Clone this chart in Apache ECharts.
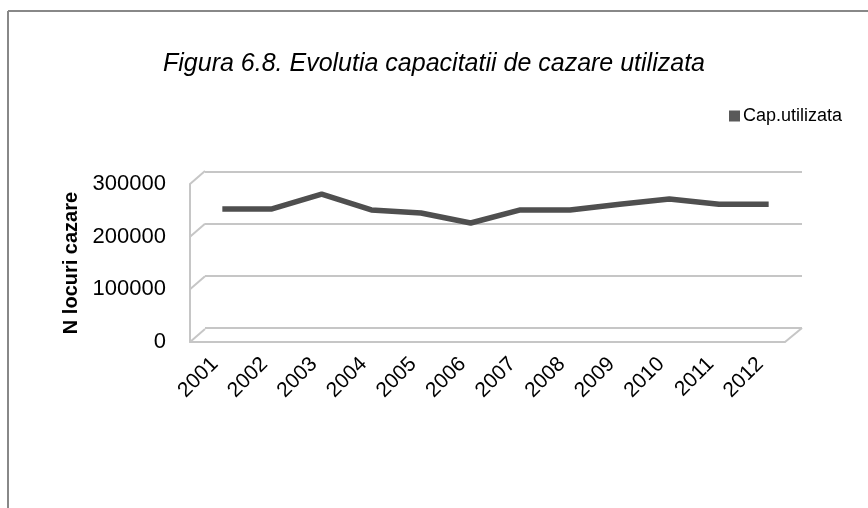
<!DOCTYPE html>
<html>
<head>
<meta charset="utf-8">
<title>Figura 6.8</title>
<script src="https://cdn.jsdelivr.net/npm/echarts@6/dist/echarts.min.js"></script>
<style>
  html, body { margin: 0; padding: 0; background: #fff; }
  #main { width: 868px; height: 508px; }
</style>
</head>
<body>
<div id="main"></div>
<script>
// date
const years = ['2001', '2002', '2003', '2004', '2005', '2006', '2007', '2008', '2009', '2010', '2011', '2012'];
const capUtilizata = [241000, 241000, 269000, 239000, 233000, 214000, 239000, 239000, 250000, 260000, 250000, 250000];
const yTicks = [0, 100000, 200000, 300000];

const chartDom = document.getElementById('main');
const myChart = echarts.init(chartDom);
const gridColor = '#c6c6c6';
const font = 'Liberation Sans, Arial, sans-serif';

// liniile oblice (efect 3D) intre axa din fata si planul din spate
function renderDepth(params, api) {
    const v = api.value(0);
    const cs = params.coordSys;
    const fy = api.coord([0, v])[1];
    const children = [{
        type: 'line',
        shape: { x1: cs.x, y1: fy, x2: cs.x + 15, y2: fy - 13 },
        style: { stroke: gridColor, lineWidth: 2 }
    }];
    if (v === 0) {
        const rx = cs.x + cs.width;
        children.push({
            type: 'line',
            shape: { x1: rx, y1: fy, x2: rx + 17, y2: fy - 14 },
            style: { stroke: gridColor, lineWidth: 2 }
        });
    }
    return { type: 'group', children: children };
}

const option = {
    backgroundColor: '#fff',
    animation: false,
    title: {
        text: 'Figura 6.8. Evolutia capacitatii de cazare utilizata',
        left: 'center',
        top: 47,
        textStyle: { fontFamily: font, fontSize: 25, fontStyle: 'italic', fontWeight: 'normal', color: '#000' }
    },
    legend: {
        left: 724,
        top: 102,
        icon: 'rect',
        itemWidth: 11,
        itemHeight: 11,
        itemGap: 4,
        textStyle: { fontFamily: font, fontSize: 18, color: '#000', padding: [0, 0, 0, -2] },
        data: ['Cap.utilizata']
    },
    graphic: [
        { type: 'line', shape: { x1: 8, y1: 11, x2: 868, y2: 11 }, style: { stroke: '#888', lineWidth: 2 } },
        { type: 'line', shape: { x1: 8, y1: 11, x2: 8, y2: 508 }, style: { stroke: '#888', lineWidth: 2 } }
    ],
    grid: [
        // planul din spate
        { left: 205, right: 66, top: 172, bottom: 180 },
        // mijloc (linia)
        { left: 197.5, right: 74.5, top: 178, bottom: 173 },
        // fata (axe si etichete)
        { left: 190, right: 83, top: 184, bottom: 166 }
    ],
    xAxis: [
        { gridIndex: 0, type: 'category', data: years, show: false },
        { gridIndex: 1, type: 'category', data: years, show: false },
        {
            gridIndex: 2, type: 'category', data: years, boundaryGap: true,
            axisLine: { lineStyle: { color: gridColor, width: 2 } },
            axisTick: { show: false },
            axisLabel: { rotate: 45, margin: 19, fontFamily: font, fontSize: 21, color: '#000', interval: 0 }
        }
    ],
    yAxis: [
        {
            gridIndex: 0, type: 'value', min: 0, max: 300000, interval: 100000,
            axisLine: { show: false }, axisTick: { show: false }, axisLabel: { show: false },
            splitLine: { lineStyle: { color: gridColor, width: 2 } }
        },
        { gridIndex: 1, type: 'value', min: 0, max: 300000, interval: 100000, show: false, splitLine: { show: false } },
        {
            gridIndex: 2, type: 'value', min: 0, max: 300000, interval: 100000,
            name: 'N locuri cazare',
            nameLocation: 'middle',
            nameGap: 107,
            nameTextStyle: { fontFamily: font, fontSize: 20, fontWeight: 'bold', color: '#000' },
            axisLine: { show: true, lineStyle: { color: gridColor, width: 2 } },
            axisTick: { show: false },
            splitLine: { show: false },
            axisLabel: { margin: 24, fontFamily: font, fontSize: 22, color: '#000', formatter: v => String(v) }
        }
    ],
    series: [
        {
            type: 'custom',
            xAxisIndex: 2,
            yAxisIndex: 2,
            data: yTicks.map(v => [v]),
            encode: { y: 0 },
            renderItem: renderDepth,
            silent: true,
            z: 1
        },
        {
            name: 'Cap.utilizata',
            type: 'line',
            xAxisIndex: 1,
            yAxisIndex: 1,
            data: capUtilizata,
            symbol: 'none',
            color: '#595959',
            lineStyle: { color: '#4f4f4f', width: 5.5, join: 'bevel' },
            z: 3
        }
    ]
};

option && myChart.setOption(option);
</script>
</body>
</html>
